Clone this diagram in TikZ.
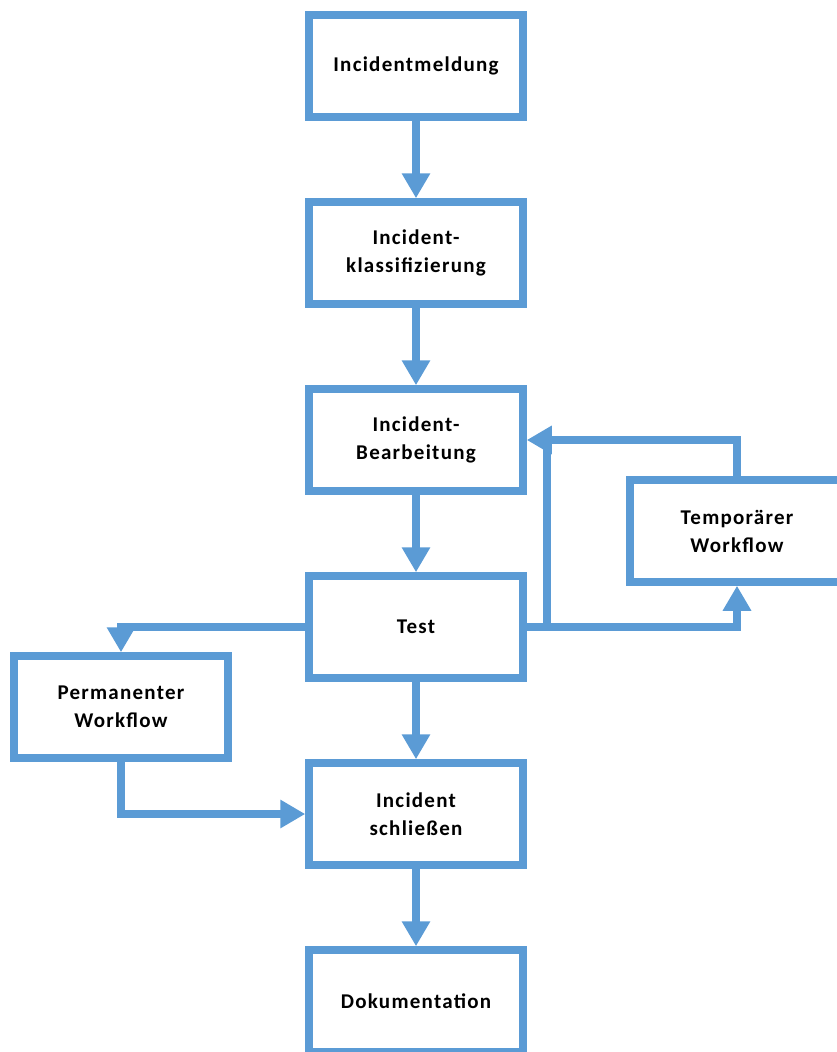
\documentclass[tikz,border=0pt]{standalone}
\usepackage{fontspec}
\setmainfont{Carlito}
\usepackage{tikz}
\usetikzlibrary{arrows.meta, positioning, calc}
\definecolor{prozessblau}{HTML}{5B9BD5}

\begin{document}
\begin{tikzpicture}[x=1pt, y=-1pt,
    node distance=187pt, on grid,
    kasten/.style={draw=prozessblau, line width=7.5pt, fill=white,
        minimum width=214pt, minimum height=102pt, inner sep=0pt, align=center,
        font=\addfontfeature{LetterSpace=6}\fontsize{21}{28}\selectfont\bfseries},
    linie/.style={draw=prozessblau, line width=7.5pt},
    pfeil/.style={linie, -{Triangle[length=25pt,width=27pt]}}]

            \useasboundingbox (0,0) rectangle (836,1052);

            % Hauptablauf
            \node[kasten] (meldung) at (416,66) {Incidentmeldung};
            \node[kasten, below=of meldung] (klass) {Incident-\\klassifizierung};
            \node[kasten, below=of klass] (bearb) {Incident-\\Bearbeitung};
            \node[kasten, below=of bearb] (test) {Test};
            \node[kasten, below=of test] (schliessen) {Incident\\schließen};
            \node[kasten, below=of schliessen] (doku) {Dokumentation};

            % Nebenzweige
            \node[kasten] (temp) at (737,531) {Temporärer\\Workflow};
            \node[kasten] (perm) at (121,707) {Permanenter\\Workflow};
            \coordinate (knick) at (547,440);

            % Pfeile
            \draw[pfeil] (meldung) -- (klass);
            \draw[pfeil] (klass) -- (bearb);
            \draw[pfeil] (bearb) -- (test);
            \draw[pfeil] (test) -- (schliessen);
            \draw[pfeil] (schliessen) -- (doku);

            \draw[pfeil] (test.west) -| (perm.north);
            \draw[pfeil] (perm.south) |- (schliessen.west);
            \draw[pfeil] (test.east) -| (temp.south);
            \draw[linie] (test.east) -| (knick);
            \draw[pfeil] (temp.north) |- (bearb.east);

\end{tikzpicture}
\end{document}
